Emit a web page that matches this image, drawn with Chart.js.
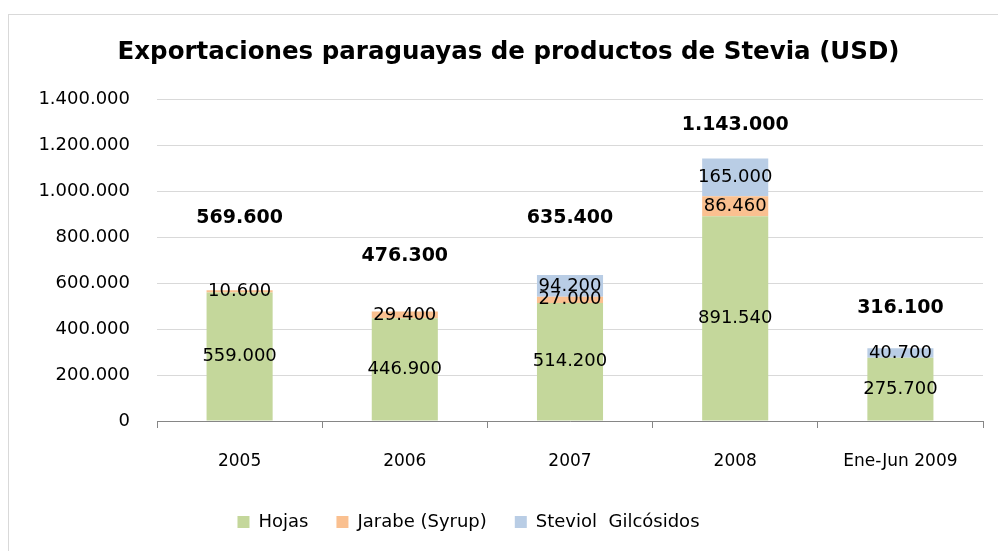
<!DOCTYPE html>
<html lang="es">
<head>
<meta charset="utf-8">
<title>Exportaciones paraguayas de productos de Stevia</title>
<script src="https://cdn.jsdelivr.net/npm/chart.js@4.4.1/dist/chart.umd.min.js"></script>
<style>
    html, body { margin: 0; padding: 0; background: #ffffff; }
    #wrap { position: relative; width: 998px; height: 551px; }
</style>
</head>
<body>
<div id="wrap"><canvas id="chart-stevia"></canvas></div>
<script>
const categories = ['2005', '2006', '2007', '2008', 'Ene-Jun 2009'];
const hojas = [559000, 446900, 514200, 891540, 275700];
const jarabe = [10600, 29400, 27000, 86460, 0];
const steviol = [0, 0, 94200, 165000, 40700];
// totals as printed on the original chart
const totals = [569600, 476300, 635400, 1143000, 316100];
const seriesNames = ['Hojas', 'Jarabe (Syrup)', 'Steviol  Gilcósidos'];
const yTicks = [0, 200000, 400000, 600000, 800000, 1000000, 1200000, 1400000];

const COLORS = {
    hojas: '#C4D79B',
    jarabe: '#FAC090',
    steviol: '#B9CDE5',
    grid: '#D9D9D9',
    axis: '#868686',
    text: '#000000'
};
const FONT = '"DejaVu Sans", Verdana, sans-serif';

// how far (px) each total label sits above its bar, as laid out in the original
const totalLift = [72, 56, 57, 33, 40];

function fmt(v) {
    return String(Math.round(v)).replace(/\B(?=(\d{3})+(?!\d))/g, '.');
}

const frame = {
    id: 'frame',
    beforeDraw(chart) {
        const { ctx } = chart;
        ctx.save();
        ctx.strokeStyle = '#D9D9D9';
        ctx.lineWidth = 1;
        ctx.strokeRect(8.5, 14.5, chart.width + 20, chart.height + 20);
        ctx.restore();
    }
};

// title sits a bit right of centre, legend a bit left, as in the original
const nudgeBoxes = {
    id: 'nudgeBoxes',
    afterLayout(chart) {
        if (chart.titleBlock) {
            chart.titleBlock.left += 17;
            chart.titleBlock.right += 17;
        }
        if (chart.legend) {
            chart.legend.left -= 23;
            chart.legend.right -= 23;
        }
    }
};

const barLabels = {
    id: 'barLabels',
    afterDatasetsDraw(chart) {
        const { ctx } = chart;
        const y = chart.scales.y;
        ctx.save();
        ctx.textAlign = 'center';
        ctx.textBaseline = 'middle';
        ctx.fillStyle = COLORS.text;
        ctx.font = '18px ' + FONT;
        chart.data.datasets.forEach((ds, di) => {
            chart.getDatasetMeta(di).data.forEach((bar, i) => {
                const v = ds.data[i];
                if (!v) return;
                ctx.fillText(fmt(v), bar.x, (bar.y + bar.base) / 2);
            });
        });
        ctx.font = 'bold 19px ' + FONT;
        totals.forEach((t, i) => {
            const bar = chart.getDatasetMeta(0).data[i];
            ctx.fillText(fmt(t), bar.x, y.getPixelForValue(t) - totalLift[i]);
        });
        ctx.restore();
    }
};

new Chart(document.getElementById('chart-stevia'), {
    type: 'bar',
    data: {
        labels: categories,
        datasets: [
            { label: seriesNames[0], data: hojas, backgroundColor: COLORS.hojas },
            { label: seriesNames[1], data: jarabe, backgroundColor: COLORS.jarabe },
            { label: seriesNames[2], data: steviol, backgroundColor: COLORS.steviol }
        ]
    },
    options: {
        responsive: true,
        maintainAspectRatio: false,
        animation: false,
        categoryPercentage: 1,
        barPercentage: 0.4,
        layout: { padding: { left: 0, right: 15, top: 0, bottom: 10 } },
        plugins: {
            title: {
                display: true,
                text: 'Exportaciones paraguayas de productos de Stevia (USD)',
                color: COLORS.text,
                font: { family: FONT, size: 24.5, weight: 'bold' },
                padding: { top: 38, bottom: 32 }
            },
            legend: {
                position: 'bottom',
                labels: {
                    color: COLORS.text,
                    font: { family: FONT, size: 18 },
                    boxWidth: 12,
                    boxHeight: 12,
                    padding: 28
                }
            },
            tooltip: { enabled: false }
        },
        scales: {
            x: {
                stacked: true,
                offset: true,
                grid: {
                    offset: true,
                    drawOnChartArea: false,
                    drawTicks: true,
                    tickLength: 7,
                    color: COLORS.axis
                },
                border: { display: true, color: COLORS.axis, width: 1 },
                ticks: {
                    color: COLORS.text,
                    font: { family: FONT, size: 17 },
                    padding: 23,
                    maxRotation: 0
                },
                afterFit(scale) { scale.height = 64; }
            },
            y: {
                stacked: true,
                min: 0,
                max: 1400000,
                afterBuildTicks(scale) { scale.ticks = yTicks.map(v => ({ value: v })); },
                grid: { color: COLORS.grid, drawTicks: false },
                border: { display: false },
                ticks: {
                    color: COLORS.text,
                    font: { family: FONT, size: 18 },
                    padding: 27,
                    callback: v => fmt(v)
                },
                afterFit(scale) { scale.width = 157; }
            }
        }
    },
    plugins: [frame, nudgeBoxes, barLabels]
});
</script>
</body>
</html>
